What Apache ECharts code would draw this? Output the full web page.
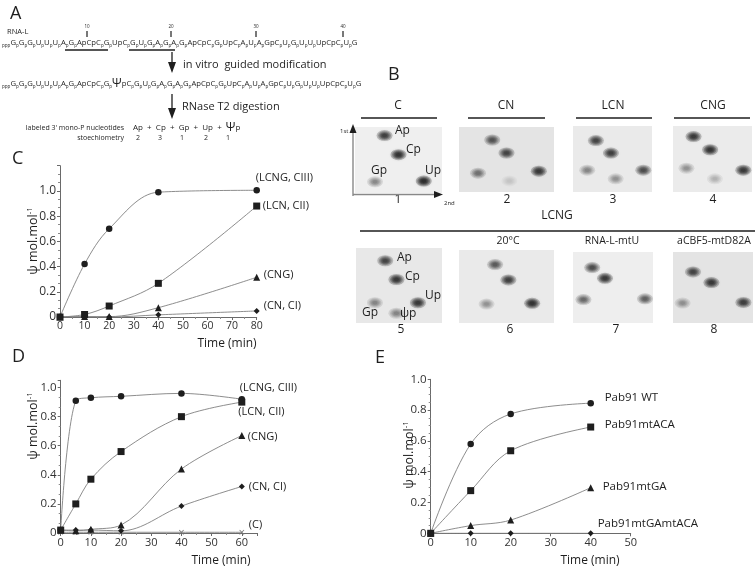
<!DOCTYPE html>
<html><head><meta charset="utf-8">
<script src="https://cdn.jsdelivr.net/npm/echarts@6/dist/echarts.min.js"></script>
<style>html,body{margin:0;padding:0;background:#fff}#c{width:756px;height:568px}</style>
</head><body><div id="c"></div>
<script>
// ---------- DATA ----------
// Panel C
const timeC = [0, 10, 20, 40, 80];
const cLCNG = [0, 0.42, 0.70, 0.99, 1.005];
const cLCN  = [0, 0.02, 0.087, 0.267, 0.88];
const cCNG  = [0, 0.003, 0.003, 0.074, 0.315];
const cCN   = [0, 0.0, 0.0, 0.017, 0.048];
const namesC = ['(LCNG, CIII)', '(LCN, CII)', '(CNG)', '(CN, CI)'];
// Panel D
const timeD = [0, 5, 10, 20, 40, 60];
const dLCNG = [0.02, 0.91, 0.93, 0.94, 0.96, 0.92];
const dLCN  = [0.02, 0.20, 0.37, 0.56, 0.80, 0.90];
const dCNG  = [0.02, 0.015, 0.025, 0.055, 0.44, 0.67];
const dCN   = [0.02, 0.02, 0.02, 0.015, 0.185, 0.32];
const dC    = [0.005, 0.005, 0.005, 0.005, 0.005, 0.005];
const namesD = ['(LCNG, CIII)', '(LCN, CII)', '(CNG)', '(CN, CI)', '(C)'];
// Panel E
const timeE = [0, 10, 20, 40];
const eWT    = [0, 0.58, 0.775, 0.845];
const eACA   = [0, 0.277, 0.536, 0.69];
const eGA    = [0, 0.05, 0.086, 0.296];
const eGAACA = [0, 0, 0, 0];
const namesE = ['Pab91 WT', 'Pab91mtACA', 'Pab91mtGA', 'Pab91mtGAmtACA'];
// Panel B (TLC spots: [x, y, intensity] in relative plate units)
const tlcNumbers = ['1', '2', '3', '4', '5', '6', '7', '8'];
const tlcHeadersTop = ['C', 'CN', 'LCN', 'CNG'];
const tlcHeadersBottom = ['20°C', 'RNA-L-mtU', 'aCBF5-mtD82A'];
const tlcSpots = [
  [[0.34, 0.13, 0.85], [0.50, 0.42, 0.95], [0.23, 0.83, 0.40], [0.79, 0.82, 1.0]],
  [[0.35, 0.20, 0.70], [0.50, 0.40, 0.80], [0.20, 0.71, 0.50], [0.84, 0.68, 0.90], [0.53, 0.83, 0.12]],
  [[0.29, 0.22, 0.80], [0.48, 0.41, 0.85], [0.18, 0.67, 0.40], [0.89, 0.67, 0.75], [0.54, 0.80, 0.35]],
  [[0.26, 0.16, 0.90], [0.47, 0.36, 0.95], [0.17, 0.64, 0.35], [0.89, 0.67, 0.90], [0.53, 0.80, 0.22]],
  [[0.34, 0.17, 0.80], [0.47, 0.42, 0.90], [0.22, 0.73, 0.40], [0.72, 0.73, 0.90], [0.47, 0.87, 0.40]],
  [[0.38, 0.20, 0.65], [0.52, 0.41, 0.85], [0.29, 0.74, 0.35], [0.77, 0.73, 0.95]],
  [[0.24, 0.22, 0.75], [0.40, 0.37, 0.90], [0.13, 0.67, 0.55], [0.90, 0.66, 0.60]],
  [[0.25, 0.28, 0.80], [0.48, 0.43, 0.90], [0.12, 0.72, 0.35], [0.88, 0.71, 0.85]]
];
// Panel A
const seqTop = 'G,G,G,U,U,U,A,G,ApCpC,G,UpC,G,U,G,A,G,A,G,ApCpC,G,UpC,A,U,A,GpC,U,G,U,U,UpCpC,U,G';
const seqMod = 'G,G,G,U,U,U,A,G,ApCpC,G,#pC,G,U,G,A,G,A,G,ApCpC,G,UpC,A,U,A,GpC,U,G,U,U,UpCpC,U,G';
const seqTicks = ['10', '20', '30', '40'];
const stoich = ['2', '3', '1', '2', '1'];

// ---------- OPTION ----------
const FF = 'Open Sans, Noto Sans, sans-serif';
const INK = '#1e1e1e';
const LINE = '#808080';

function seqRich(s) {
  return '{s|ppp}' + s.split(',').map(function (seg) {
    if (seg.charAt(0) === '#') return '{psi|Ψ}{n|' + seg.slice(1) + '}';
    return '{n|' + seg + '}';
  }).join('{s|p}');
}
function T(x, y, text, size, o) {
  o = o || {};
  return {type: 'text', x: x, y: y, rotation: o.rot || 0, silent: true,
    style: {text: text, fill: o.color || INK, font: (o.weight || 'normal') + ' ' + size + 'px ' + FF,
      textAlign: o.align || 'left', textVerticalAlign: 'middle', rich: o.rich}};
}
function L(x1, y1, x2, y2, w, c) {
  return {type: 'line', silent: true, shape: {x1: x1, y1: y1, x2: x2, y2: y2},
    style: {stroke: c || INK, lineWidth: w || 1}};
}
function P(pts, c) {
  return {type: 'polygon', silent: true, shape: {points: pts}, style: {fill: c || INK}};
}
const richSeq = {
  n: {fontSize: 7.7, fontFamily: FF, fill: INK, verticalAlign: 'bottom', lineHeight: 10, padding: [0, 0, 1.5, 0]},
  s: {fontSize: 4.6, fontFamily: FF, fill: INK, verticalAlign: 'bottom', lineHeight: 6},
  psi: {fontSize: 12, fontFamily: FF, fill: INK, verticalAlign: 'bottom', lineHeight: 13}
};
const supRich = {
  sup: {fontSize: 8, fontFamily: FF, fill: INK, verticalAlign: 'top', padding: [0, 0, 6, 0]}
};

const graphics = [
  // panel letters
  T(10, 14, 'A', 18), T(388, 75, 'B', 18), T(12, 159, 'C', 18), T(12, 357, 'D', 18), T(375, 358, 'E', 18),
  // Panel A
  T(7, 32, 'RNA-L', 7.5),
  T(2, 43, seqRich(seqTop), 7.7, {rich: richSeq}),
  T(2, 83, seqRich(seqMod), 7.7, {rich: richSeq}),
  L(65, 50, 108, 50, 1.6), L(129, 50, 175, 50, 1.6),
  L(172, 52, 172, 64, 1.3), P([[168, 62], [176, 62], [172, 73]]),
  T(183, 65, 'in vitro  guided modification', 11),
  L(172, 94, 172, 110, 1.3), P([[168, 108], [176, 108], [172, 119]]),
  T(182, 107, 'RNase T2 digestion', 11),
  T(124, 128, "labeled 3' mono-P nucleotides", 7, {align: 'right'}),
  T(133, 128, 'Ap  +  Cp  +  Gp  +  Up  +  {psi|Ψ}p', 8, {rich: {psi: {fontSize: 12, fontFamily: FF, fill: INK}}}),
  T(124, 138, 'stoechiometry', 7, {align: 'right'})
];
[87, 171, 256, 343].forEach(function (x, i) {
  graphics.push(L(x, 31, x, 37, 1.2));
  graphics.push(T(x, 27, seqTicks[i], 4.5, {align: 'center'}));
});
[138, 160, 182, 206, 228].forEach(function (x, i) {
  graphics.push(T(x, 138, stoich[i], 7, {align: 'center'}));
});
// Panel B headers
[[398, 361, 437], [506, 468, 545], [613, 576, 652], [713, 674, 750]].forEach(function (h, i) {
  graphics.push(T(h[0], 106, tlcHeadersTop[i], 12, {align: 'center'}));
  graphics.push(L(h[1], 118, h[2], 118, 1.6));
});
graphics.push(T(557, 216, 'LCNG', 12, {align: 'center'}));
graphics.push(L(360, 231, 755, 231, 1.6));
[508, 612, 714].forEach(function (x, i) {
  graphics.push(T(x, 241, tlcHeadersBottom[i], 10.5, {align: 'center'}));
});
[[398, 200], [507, 200], [613, 200], [713, 200], [401, 330], [510, 330], [616, 330], [714, 330]].forEach(function (p, i) {
  graphics.push(T(p[0], p[1], tlcNumbers[i], 12, {align: 'center'}));
});
// panel 1 axes arrows
graphics.push(L(353, 196, 353, 131, 1.4, '#888'), P([[349.5, 133], [356.5, 133], [353, 124]]));
graphics.push(L(353, 194.5, 436, 194.5, 1.4, '#888'), P([[434, 191], [434, 198], [443, 194.5]]));
graphics.push(T(340, 131, '1st', 6), T(444, 203, '2nd', 6));
// spot labels panels 1 & 5
graphics.push(T(395, 131, 'Ap', 12), T(406, 150, 'Cp', 12), T(371, 171, 'Gp', 12), T(425, 171, 'Up', 12));
graphics.push(T(397, 258, 'Ap', 12), T(405, 277, 'Cp', 12), T(425, 296, 'Up', 12), T(362, 313, 'Gp', 12), T(400, 314, 'ψp', 12));
// axis titles
const yName = '{b|ψ mol.mol}{sup|-1}';
const yRich = Object.assign({b: {fontSize: 12.5, fontFamily: FF, fill: INK}}, supRich);
graphics.push(T(33, 241, yName, 12.5, {rot: Math.PI / 2, align: 'center', rich: yRich}));
graphics.push(T(33, 426, yName, 12.5, {rot: Math.PI / 2, align: 'center', rich: yRich}));
graphics.push(T(409, 455, yName, 12.5, {rot: Math.PI / 2, align: 'center', rich: yRich}));
graphics.push(T(227, 344, 'Time (min)', 12, {align: 'center'}));
graphics.push(T(221, 561, 'Time (min)', 12, {align: 'center'}));
graphics.push(T(590, 561, 'Time (min)', 12, {align: 'center'}));

// grids
const grids = [
  {left: 60, top: 165.7, width: 196.7, height: 151.3},
  {left: 60.7, top: 380.3, width: 196.2, height: 152.7},
  {left: 430.7, top: 379.3, width: 200, height: 154}
];
const tlcBoxes = [
  [355, 127, 87, 66, '#efefef'], [459, 127, 95, 65, '#e4e4e4'], [573, 126, 79, 66, '#eaeaea'], [673, 126, 79, 66, '#ebebeb'],
  [356, 248, 86, 75, '#e8e8e8'], [459, 250, 95, 73, '#eaeaea'], [573, 252, 80, 71, '#eeeeee'], [673, 252, 80, 71, '#e4e4e4']
];
tlcBoxes.forEach(function (b) {
  grids.push({left: b[0], top: b[1], width: b[2], height: b[3], show: true, backgroundColor: b[4], borderWidth: 0});
});

function fmtY(v) { if (v > 1.001) return ''; return v === 0 ? '0' : v.toFixed(1); }
function valueAxis(gi, min, max, interval, minorSplit, fs, fmt) {
  return {gridIndex: gi, type: 'value', min: min, max: max, interval: interval,
    axisLine: {show: true, lineStyle: {color: '#6a6a6a', width: 1}},
    axisTick: {show: true, length: 3, lineStyle: {color: '#6a6a6a'}},
    minorTick: {show: minorSplit > 0, splitNumber: minorSplit || 2, length: 2, lineStyle: {color: '#8a8a8a'}},
    splitLine: {show: false}, minorSplitLine: {show: false},
    axisLabel: {fontSize: fs, color: '#333', fontFamily: FF, margin: 4, formatter: fmt}};
}
const xFmt = function (v) { return (v % 10 === 0) ? String(v) : ''; };
const xAxes = [
  valueAxis(0, 0, 80, 10, 2, 10.5, xFmt),
  valueAxis(1, 0, 65, 10, 2, 11, xFmt),
  valueAxis(2, 0, 50, 10, 0, 11, xFmt)
];
const yAxes = [
  valueAxis(0, 0, 1.2, 0.2, 3, 12, fmtY),
  valueAxis(1, 0, 1.05, 0.2, 3, 11.5, fmtY),
  valueAxis(2, 0, 1.0, 0.2, 4, 11.5, fmtY)
];
for (let i = 0; i < 8; i++) {
  xAxes.push({gridIndex: 3 + i, type: 'value', min: 0, max: 1, show: false});
  yAxes.push({gridIndex: 3 + i, type: 'value', min: 0, max: 1, inverse: true, show: false});
}

function pairs(xs, ys) { return xs.map(function (x, i) { return [x, ys[i]]; }); }
const CROSS = 'path://M0,1.2L1.2,0L5,3.8L8.8,0L10,1.2L6.2,5L10,8.8L8.8,10L5,6.2L1.2,10L0,8.8L3.8,5Z';
function line(gi, name, xs, ys, sym, size, off, color, fs) {
  return {type: 'line', name: name, xAxisIndex: gi, yAxisIndex: gi, data: pairs(xs, ys),
    smooth: 0.35, symbol: sym, symbolSize: size, showAllSymbol: true,
    lineStyle: {color: LINE, width: 0.9}, itemStyle: {color: color || INK, borderWidth: 0},
    endLabel: {show: true, formatter: name, offset: off, distance: 5, fontSize: fs || 11, color: INK, fontFamily: FF},
    emphasis: {disabled: true}, z: 3};
}
const series = [
  line(0, namesC[3], timeC, cCN, 'diamond', 6, [2, -5]),
  line(0, namesC[2], timeC, cCNG, 'triangle', 7, [2, -2]),
  line(0, namesC[0], timeC, cLCNG, 'circle', 6.5, [-6, -12]),
  line(0, namesC[1], timeC, cLCN, 'rect', 7, [1, 0]),
  line(1, namesD[4], timeD, dC, CROSS, 5, [2, -7], '#777'),
  line(1, namesD[3], timeD, dCN, 'diamond', 6, [2, 0]),
  line(1, namesD[2], timeD, dCNG, 'triangle', 7, [1, 1.5]),
  line(1, namesD[0], timeD, dLCNG, 'circle', 6.5, [-7, -11.5]),
  line(1, namesD[1], timeD, dLCN, 'rect', 7, [-8.5, 9.5]),
  line(2, namesE[3], timeE, eGAACA, 'diamond', 6, [2, -10], null, 11.5),
  line(2, namesE[2], timeE, eGA, 'triangle', 7, [7, -1], null, 11.5),
  line(2, namesE[0], timeE, eWT, 'circle', 6.5, [9, -5], null, 11.5),
  line(2, namesE[1], timeE, eACA, 'rect', 7, [9, -2], null, 11.5)
];
// TLC spots: soft ellipses built from stacked translucent layers
const spotLayers = [2.0, 1.6, 1.25, 0.95, 0.65];
tlcSpots.forEach(function (spots, i) {
  spotLayers.forEach(function (k) {
    series.push({type: 'scatter', xAxisIndex: 3 + i, yAxisIndex: 3 + i, silent: true,
      symbol: 'circle', symbolSize: [8 * k, 5.5 * k],
      data: spots.map(function (s) {
        const c = 'rgba(10,10,10,' + (s[2] * 0.3).toFixed(3) + ')';
        return {value: [s[0], s[1]], itemStyle: {color: c, shadowBlur: 3, shadowColor: c}};
      }), z: 2});
  });
});

const chart = echarts.init(document.getElementById('c'), null, {renderer: 'canvas'});
chart.setOption({
  animation: false, backgroundColor: '#fff',
  grid: grids, xAxis: xAxes, yAxis: yAxes, series: series, graphic: {elements: graphics}
});
</script></body></html>
